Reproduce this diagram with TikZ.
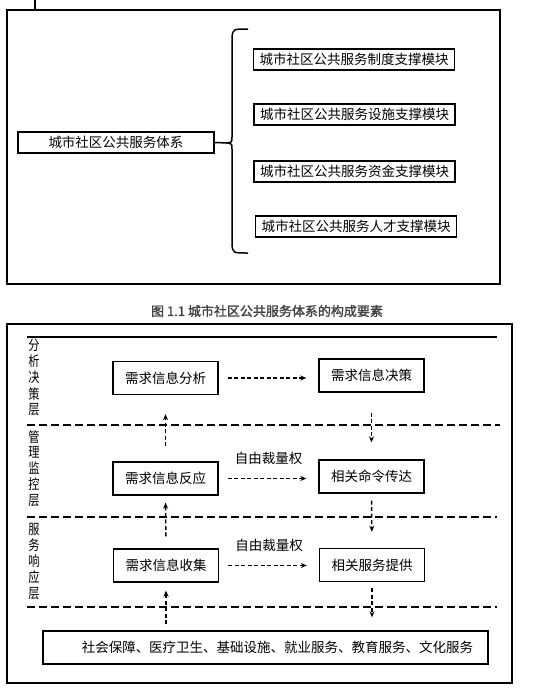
\documentclass[tikz,border=0pt]{standalone}
\usepackage{fontspec}
\usepackage{graphicx}
\setmainfont{Noto Sans CJK SC}
\newfontfamily\capfont[FakeBold=1.5]{Noto Sans CJK SC}
\usetikzlibrary{arrows.meta,calc}
\colorlet{capcol}{black!75}
\tikzstyle{box}=[draw,line width=1.4pt,inner sep=0pt,font=\fontsize{13.5}{14}\selectfont]
\tikzstyle{modbox}=[box,minimum width=201pt,minimum height=21pt]
\tikzstyle{stepbox}=[box,minimum width=105pt,minimum height=33pt]
\tikzstyle{sep}=[line width=1.6pt,dash pattern=on 8pt off 4pt]
\tikzstyle{dvec}=[-{Stealth[length=6pt,width=5pt]},line width=1.4pt,dash pattern=on 4pt off 2.5pt]
\tikzstyle{layer}=[inner sep=0pt,font=\fontsize{14}{14.4}\selectfont]
\tikzstyle{lbl}=[inner sep=0pt,font=\fontsize{13.5}{14}\selectfont]
\newcommand{\layertext}[1]{\scalebox{0.8}[1]{\begin{tabular}{@{}c@{}}#1\end{tabular}}}

\begin{document}
\begin{tikzpicture}[x=1pt,y=-1pt]
  \useasboundingbox (0,0) rectangle (547,694);
  % Figure 1.1
  \draw[line width=1.5pt] (7,10) rectangle (500,284);
  \draw[line width=1.5pt] (35,0) -- (35,10);
  \node[box,minimum width=196pt,minimum height=21pt] (sys) at (116,142.5) {城市社区公共服务体系};
  \node[modbox] (m1) at (354,59.5) {城市社区公共服务制度支撑模块};
  \node[modbox] (m2) at (354.5,114.5) {城市社区公共服务设施支撑模块};
  \node[modbox] (m3) at (354.5,171.5) {城市社区公共服务资金支撑模块};
  \node[modbox] (m4) at (356,226.5) {城市社区公共服务人才支撑模块};
  \coordinate (tip) at (228,143);
  \draw[line width=1.5pt] (248,29) .. controls (233,29) .. (232,37) -- (232,137)
    .. controls (232,142) .. (tip) .. controls (232,144) .. (232,149) -- (232,245)
    .. controls (233,253) .. (248,253);
  \draw[line width=1.5pt] (sys.east) -- (tip);
  \node[font=\capfont\fontsize{13}{14}\selectfont,text=capcol] (cap) at (267,311)
    {图 1.1 城市社区公共服务体系的构成要素};

  % Layers
  \draw[line width=1.5pt] (7,324) rectangle (512,683);
  \draw[line width=1.6pt] (27,337) -- (497,337);
  \draw[sep] (27,425) -- (500,425);
  \draw[sep] (27,517) -- (497,517);
  \draw[sep] (27,607) -- (497,607);
  \node[layer] (l1) at (34,379) {\layertext{分\\析\\决\\策\\层}};
  \node[layer] (l2) at (34,470) {\layertext{管\\理\\监\\控\\层}};
  \node[layer] (l3) at (34,563) {\layertext{服\\务\\响\\应\\层}};

  \node[stepbox] (ana) at (165.5,378) {需求信息分析};
  \node[stepbox] (dec) at (371.5,375.5) {需求信息决策};
  \node[stepbox] (rea) at (165.5,478.5) {需求信息反应};
  \node[stepbox] (cmd) at (371.5,476.5) {相关命令传达};
  \node[stepbox] (col) at (166,565.5) {需求信息收集};
  \node[stepbox] (pro) at (372,565) {相关服务提供};
  \node[box,minimum width=445pt,minimum height=33pt] (base) at (265.5,647.5)
    {\hspace*{24pt}社会保障、医疗卫生、基础设施、就业服务、教育服务、文化服务};

  % Arrows
  \draw[dvec,shorten <=9pt,shorten >=12pt] (ana.east) -- (ana.east -| dec.west);
  \draw[dvec,shorten <=9pt,shorten >=12pt] (rea.east) -- (rea.east -| cmd.west)
    node[lbl,midway,yshift=20pt] (free1) {自由裁量权};
  \draw[dvec,shorten <=9pt,shorten >=12pt] (col.east) -- (col.east -| pro.west)
    node[lbl,midway,yshift=20pt] (free2) {自由裁量权};
  \draw[dvec,shorten <=15pt,shorten >=19pt] (rea.north) -- (ana.south);
  \draw[dvec,shorten <=12pt,shorten >=7pt] (col.north) -- (rea.south);
  \draw[dvec,shorten <=6pt,shorten >=8pt] (col.south |- base.north) -- (col.south);
  \draw[dvec,shorten <=20pt,shorten >=17pt] (dec.south) -- (cmd.north);
  \draw[dvec,shorten <=7pt,shorten >=16pt] (cmd.south) -- (pro.north);
  \draw[dvec,shorten <=6pt,shorten >=13pt] (pro.south) -- (pro.south |- base.north);
\end{tikzpicture}
\end{document}
